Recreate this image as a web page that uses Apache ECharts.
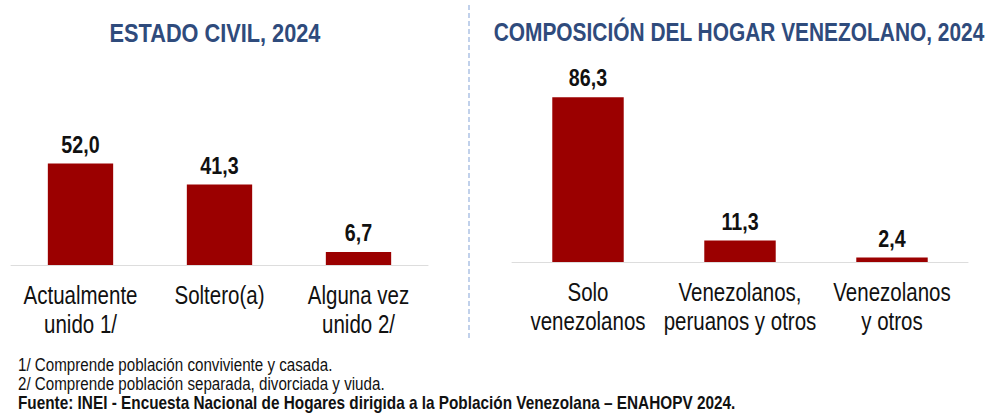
<!DOCTYPE html>
<html>
<head>
<meta charset="utf-8">
<script src="https://cdn.jsdelivr.net/npm/echarts@6/dist/echarts.min.js"></script>
<style>
html,body{margin:0;padding:0;background:#fff;overflow:hidden;width:993px;height:414px;}
#c{width:1211px;height:414px;transform:scaleX(0.82);transform-origin:0 0;}
</style>
</head>
<body>
<div id="c"></div>
<script>
const civilCategories = ['Actualmente\nunido 1/', 'Soltero(a)', 'Alguna vez\nunido 2/'];
const civilValues = [52.0, 41.3, 6.7];
const hogarCategories = ['Solo\nvenezolanos', 'Venezolanos,\nperuanos y otros', 'Venezolanos\ny otros'];
const hogarValues = [86.3, 11.3, 2.4];
const titles = ['ESTADO CIVIL, 2024', 'COMPOSICIÓN DEL HOGAR VENEZOLANO, 2024'];
const notes = ['1/ Comprende población conviviente y casada.', '2/ Comprende población separada, divorciada y viuda.'];
const source = 'Fuente: INEI - Encuesta Nacional de Hogares dirigida a la Población Venezolana – ENAHOPV 2024.';

// Arial-Narrow look: the chart is laid out wider and compressed horizontally
const S = 0.82;
const W = 1211;
const X = v => v / S;
const FONT = "'Liberation Sans',Arial,sans-serif";
const BAR = '#9B0000';
const fmt = v => v.toFixed(1).replace('.', ',');

const chart = echarts.init(document.getElementById('c'), null, {renderer: 'svg', width: W, height: 414});

function xAx(idx, cats) {
  return {
    type: 'category', gridIndex: idx, data: cats,
    axisLine: {lineStyle: {color: '#D9D9D9', width: 1}},
    axisTick: {show: false},
    axisLabel: {fontFamily: FONT, fontSize: 25, color: '#111', lineHeight: 29, margin: 16, interval: 0}
  };
}
function yAx(idx) {
  return {type: 'value', gridIndex: idx, min: 0, max: 100, show: false, splitLine: {show: false}};
}
function ser(idx, vals) {
  return {
    type: 'bar', xAxisIndex: idx, yAxisIndex: idx, data: vals, barWidth: '47%',
    itemStyle: {color: BAR},
    label: {show: true, position: 'top', distance: 7, formatter: p => fmt(p.value),
      fontFamily: FONT, fontSize: 24, fontWeight: 'bold', color: '#111'}
  };
}

chart.setOption({
  animation: false,
  title: [
    {text: titles[0], left: X(215), top: 19, padding: 0, textAlign: 'center',
      textStyle: {fontFamily: FONT, fontSize: 26.5, fontWeight: 'bold', color: '#2F4B7C'}},
    {text: titles[1], left: X(739), top: 19, padding: 0, textAlign: 'center',
      textStyle: {fontFamily: FONT, fontSize: 25.5, fontWeight: 'bold', color: '#2F4B7C'}}
  ],
  grid: [
    {left: X(11), right: W - X(428), top: 70, bottom: 149},
    {left: X(512), right: W - X(968), top: 71, bottom: 152}
  ],
  xAxis: [xAx(0, civilCategories), xAx(1, hogarCategories)],
  yAxis: [yAx(0), yAx(1)],
  series: [ser(0, civilValues), ser(1, hogarValues)],
  graphic: [
    {type: 'line', shape: {x1: X(469), y1: 5, x2: X(469), y2: 338},
      style: {stroke: '#B4C7E7', lineWidth: 2, lineDash: [5, 3]}},
    {type: 'text', left: X(18), top: 355, style: {text: notes[0], font: "18.5px " + FONT, lineHeight: 18, fill: '#111'}},
    {type: 'text', left: X(18), top: 374, style: {text: notes[1], font: "18.5px " + FONT, lineHeight: 18, fill: '#111'}},
    {type: 'text', left: X(18), top: 393, style: {text: source, font: "bold 18.7px " + FONT, lineHeight: 18, fill: '#111'}}
  ]
});
</script>
</body>
</html>
